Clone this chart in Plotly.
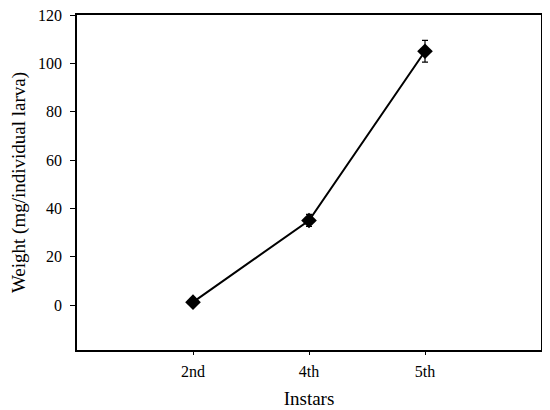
"""Larval weight by instar, line with error bars."""

import plotly.graph_objects as go

INSTARS = ["2nd", "4th", "5th"]
WEIGHT = [1.2, 35.0, 105.0]
WEIGHT_ERR = [0.5, 2.5, 4.5]
Y_TICKS = [0, 20, 40, 60, 80, 100, 120]

FONT = "Liberation Serif, Times New Roman, serif"

fig = go.Figure()
fig.add_trace(
    go.Scatter(
        x=[0, 1, 2],
        y=WEIGHT,
        mode="lines+markers",
        line={"color": "black", "width": 2},
        marker={"symbol": "diamond", "size": 12, "color": "black"},
        error_y={"type": "data", "array": WEIGHT_ERR, "color": "black",
                 "thickness": 1.2, "width": 3},
        showlegend=False,
    )
)

# page body adds an 8px offset, so the figure is sized a bit smaller
fig.update_layout(
    width=542,
    height=402,
    margin={"t": 7, "l": 69, "r": 9, "b": 60},
    paper_bgcolor="white",
    plot_bgcolor="white",
    font={"family": FONT, "size": 16, "color": "black"},
    xaxis={
        "range": [-1, 3],
        "tickvals": [0, 1, 2],
        "ticktext": INSTARS,
        "automargin": False,
        "showgrid": False,
        "zeroline": False,
        "showline": True,
        "linecolor": "black",
        "linewidth": 1.5,
        "mirror": True,
        "ticks": "outside",
        "ticklen": 3,
        "tickcolor": "black",
        "ticklabelstandoff": 3,
        "title": {"text": "Instars", "standoff": 13},
    },
    yaxis={
        "range": [-18.6, 120],
        "tickvals": Y_TICKS,
        "automargin": False,
        "showgrid": False,
        "zeroline": False,
        "showline": True,
        "linecolor": "black",
        "linewidth": 1.5,
        "mirror": True,
        "ticks": "outside",
        "ticklen": 5,
        "tickcolor": "black",
        "ticklabelstandoff": 5,
        "ticklabeloverflow": "allow",
        "title": {"text": "Weight (mg/individual larva)", "standoff": 18},
    },
)

fig.write_html("out.html")
